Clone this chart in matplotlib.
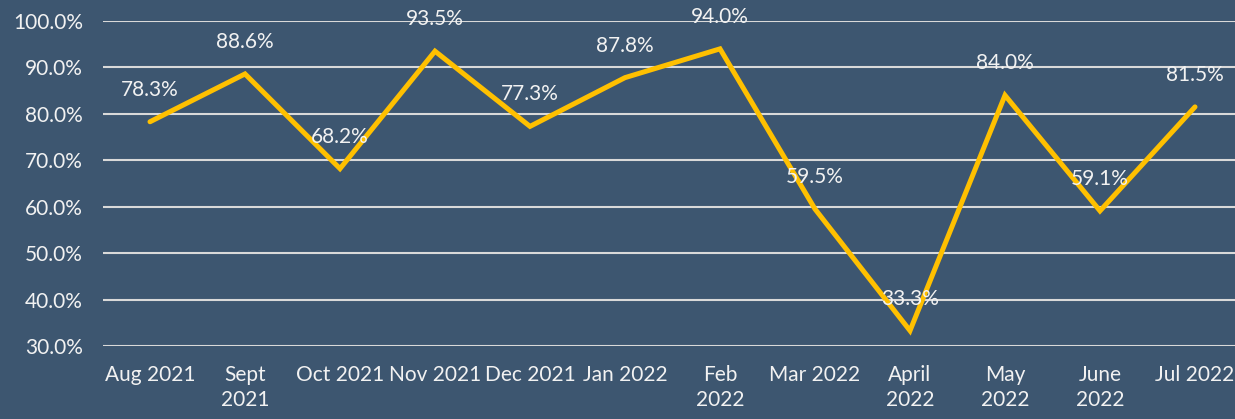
import matplotlib.pyplot as plt
from matplotlib.ticker import FuncFormatter

# monthly values (%)
months = ["Aug 2021", "Sept\n2021", "Oct 2021", "Nov 2021", "Dec 2021", "Jan 2022",
          "Feb\n2022", "Mar 2022", "April\n2022", "May\n2022", "June\n2022", "Jul 2022"]
values = [78.3, 88.6, 68.2, 93.5, 77.3, 87.8, 94.0, 59.5, 33.3, 84.0, 59.1, 81.5]
yticks = [30, 40, 50, 60, 70, 80, 90, 100]

bg = "#3D5670"
txt = "#F2F2F2"

plt.rcParams['font.family'] = ['Lato', 'DejaVu Sans']

fig = plt.figure(figsize=(12.35, 4.19), dpi=100, facecolor=bg)
# plot area runs a bit past the right edge, as in the reference
ax = fig.add_axes([102.5 / 1235, 73 / 419, 1140 / 1235, 325 / 419], facecolor=bg)

x = list(range(len(values)))
ax.plot(x, values, color="#FFC000", lw=3.6, solid_joinstyle="miter",
        solid_capstyle="round", zorder=3)

for xi, v in zip(x, values):
    ax.annotate(f"{v:.1f}%", (xi, v), xytext=(0, 23), textcoords="offset points",
                ha="center", va="center", color=txt, fontsize=15, zorder=4)

ax.set_xlim(-0.5, 11.5)
ax.set_ylim(30, 100)
ax.set_yticks(yticks)
ax.yaxis.set_major_formatter(FuncFormatter(lambda v, p: f"{v:.1f}%"))
ax.set_xticks(x)
ax.set_xticklabels(months, linespacing=1.3)
ax.grid(axis="y", color="#D9D9D9", lw=1.5)
ax.set_axisbelow(True)
for s in ax.spines.values():
    s.set_visible(False)
ax.tick_params(axis="both", length=0, colors=txt, labelsize=15)
ax.tick_params(axis="y", pad=14)
ax.tick_params(axis="x", pad=14)

fig.savefig("out.png", dpi=100, facecolor=bg)
